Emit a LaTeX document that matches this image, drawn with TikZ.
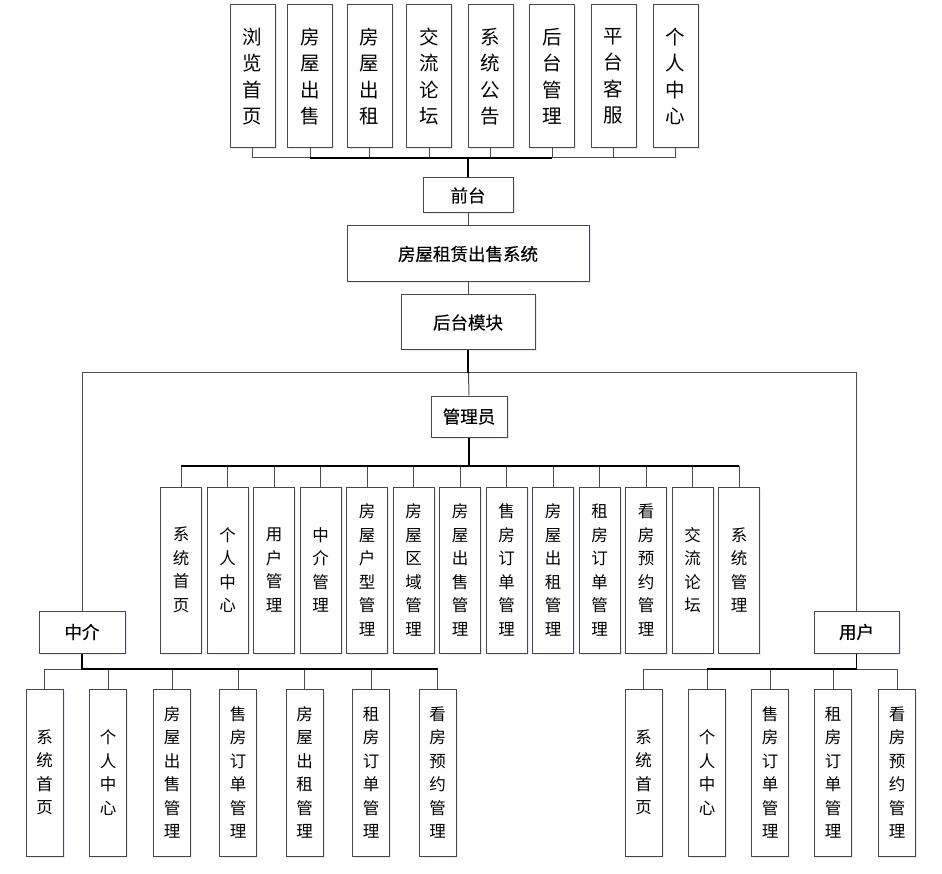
\documentclass[tikz,border=0pt]{standalone}
\usepackage{fontspec}
\setmainfont{Noto Sans CJK SC}
\newfontfamily\labelfont[FakeBold=0.3]{Noto Sans CJK SC}
\usetikzlibrary{shadows}
\begin{document}
\begin{tikzpicture}[x=1pt,y=-1pt,
  box/.style={draw=black!72,line width=1pt,fill=white,inner sep=0pt,align=center,
    drop shadow={shadow xshift=1.5pt,shadow yshift=-1.5pt,fill=blue!25,opacity=0.35}},
  topbox/.style={box,minimum width=45pt,minimum height=143pt,font=\fontsize{19.5}{26.5}\selectfont},
  midbox/.style={box,minimum width=41pt,minimum height=166pt,font=\fontsize{16.5}{23.5}\selectfont},
  lowbox/.style={box,minimum width=37pt,minimum height=167pt,font=\fontsize{16.5}{23.5}\selectfont},
  label/.style={box,font=\labelfont\fontsize{17.5}{20}\selectfont},
  conn/.style={draw=black!70,line width=1pt},
  stub/.style={draw=black,line width=1.6pt}]
\useasboundingbox (0,0) rectangle (942,874);

% top row
\node[topbox] (t1) at (252.5,76.5) {浏\\览\\首\\页};
\node[topbox] (t2) at (310,76.5) {房\\屋\\出\\售};
\node[topbox] (t3) at (369.5,76.5) {房\\屋\\出\\租};
\node[topbox] (t4) at (429,76.5) {交\\流\\论\\坛};
\node[topbox] (t5) at (490.5,76.5) {系\\统\\公\\告};
\node[topbox] (t6) at (552,76.5) {后\\台\\管\\理};
\node[topbox] (t7) at (613.5,76.5) {平\\台\\客\\服};
\node[topbox] (t8) at (675.5,76.5) {个\\人\\中\\心};

\node[label,minimum width=90pt,minimum height=35pt] (qt) at (468,195.5) {前台};
\node[label,minimum width=242pt,minimum height=56pt] (sys) at (468,254) {房屋租赁出售系统};
\node[label,minimum width=134pt,minimum height=55pt] (ht) at (468,322.5) {后台模块};
\node[label,minimum width=76pt,minimum height=41pt] (gly) at (469,416.5) {管理员};
\node[label,minimum width=86pt,minimum height=42pt] (zj) at (82,632) {中介};
\node[label,minimum width=85pt,minimum height=42pt] (yh) at (856.5,632) {用户};

% admin children
\node[midbox] (a1) at (181,570) {系\\统\\首\\页};
\node[midbox] (a2) at (227.5,570) {个\\人\\中\\心};
\node[midbox] (a3) at (274,570) {用\\户\\管\\理};
\node[midbox] (a4) at (320.5,570) {中\\介\\管\\理};
\node[midbox] (a5) at (367,570) {房\\屋\\户\\型\\管\\理};
\node[midbox] (a6) at (413.5,570) {房\\屋\\区\\域\\管\\理};
\node[midbox] (a7) at (460,570) {房\\屋\\出\\售\\管\\理};
\node[midbox] (a8) at (506.5,570) {售\\房\\订\\单\\管\\理};
\node[midbox] (a9) at (553,570) {房\\屋\\出\\租\\管\\理};
\node[midbox] (a10) at (599.5,570) {租\\房\\订\\单\\管\\理};
\node[midbox] (a11) at (646,570) {看\\房\\预\\约\\管\\理};
\node[midbox] (a12) at (692.5,570) {交\\流\\论\\坛};
\node[midbox] (a13) at (739,570) {系\\统\\管\\理};

% agent children
\node[lowbox] (z1) at (44.5,772.5) {系\\统\\首\\页};
\node[lowbox] (z2) at (108,772.5) {个\\人\\中\\心};
\node[lowbox] (z3) at (172,772.5) {房\\屋\\出\\售\\管\\理};
\node[lowbox] (z4) at (238,772.5) {售\\房\\订\\单\\管\\理};
\node[lowbox] (z5) at (304.5,772.5) {房\\屋\\出\\租\\管\\理};
\node[lowbox] (z6) at (371,772.5) {租\\房\\订\\单\\管\\理};
\node[lowbox] (z7) at (437.5,772.5) {看\\房\\预\\约\\管\\理};

% user children
\node[lowbox] (u1) at (643.5,772.5) {系\\统\\首\\页};
\node[lowbox] (u2) at (707,772.5) {个\\人\\中\\心};
\node[lowbox] (u3) at (770,772.5) {售\\房\\订\\单\\管\\理};
\node[lowbox] (u4) at (833,772.5) {租\\房\\订\\单\\管\\理};
\node[lowbox] (u5) at (897,772.5) {看\\房\\预\\约\\管\\理};

% connectors
\foreach \n in {t1,t2,t3,t4,t5,t6,t7,t8}
  \draw[conn] (qt.north) -- ++(0,-20) -| (\n.south);
\draw[stub] (qt.north) -- ++(0,-20);
\draw[line width=1.3pt] (t2.south |- 0,158) -- (t6.south |- 0,158);
\draw[conn] (qt.south) -- (sys.north);
\draw[conn] (sys.south) -- (ht.north);
\draw[conn] (ht.south) -- ++(0,22) -| (zj.north);
\draw[conn] (ht.south) -- ++(0,22) -| (yh.north);
\draw[conn] (ht.south) -- (gly.north);
\draw[stub] (ht.south) -- ++(0,22);
\foreach \n in {a1,a2,a3,a4,a5,a6,a7,a8,a9,a10,a11,a12,a13}
  \draw[conn] (gly.south) -- ++(0,29) -| (\n.north);
\draw[stub] (gly.south) -- ++(0,29);
\draw[line width=1.3pt] (a1.north |- 0,466) -- (a13.north |- 0,466);
\foreach \n in {z1,z2,z3,z4,z5,z6,z7}
  \draw[conn] (zj.south) -- ++(0,16) -| (\n.north);
\draw[stub] (zj.south) -- ++(0,16);
\draw[line width=1.3pt] (zj.south |- 0,669) -- (z7.north |- 0,669);
\foreach \n in {u1,u2,u3,u4,u5}
  \draw[conn] (yh.south) -- ++(0,16) -| (\n.north);
\draw[stub] (yh.south) -- ++(0,16);
\draw[line width=1.3pt] (yh.south |- 0,669) -- (u2.north |- 0,669);
\end{tikzpicture}
\end{document}
